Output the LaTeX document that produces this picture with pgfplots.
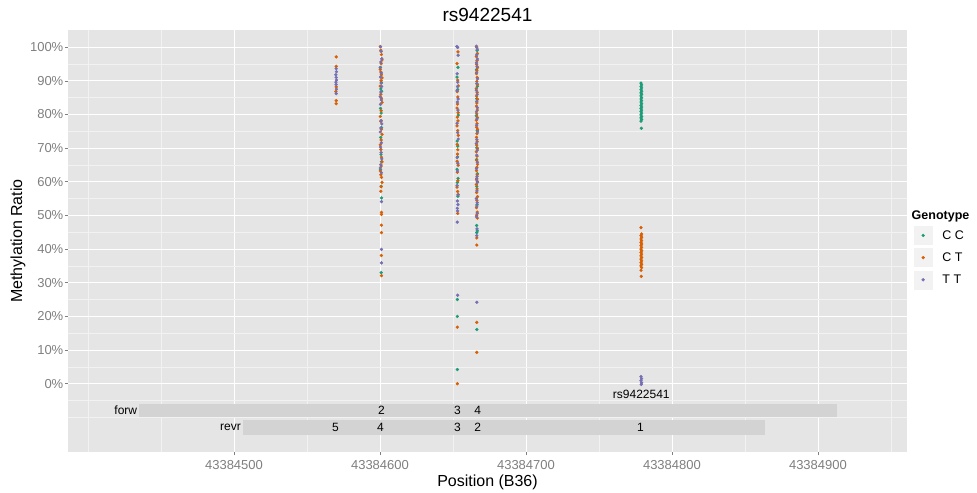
\documentclass[border=0pt]{standalone}
\usepackage{fontspec}
\setmainfont{Liberation Sans}
\usepackage{pgfplots}
\usepackage{pgfplotstable}
\pgfplotsset{compat=1.18}

\definecolor{ggbg}{HTML}{E5E5E5}
\definecolor{ggminor}{HTML}{F2F2F2}
\definecolor{ggtick}{HTML}{7F7F7F}
\definecolor{ggbar}{HTML}{D3D3D3}
\definecolor{gCC}{HTML}{1B9E77}
\definecolor{gCT}{HTML}{D95F02}
\definecolor{gTT}{HTML}{7570B3}

% x = position - 43384000, y = methylation ratio in percent
\pgfplotstableread{
x y
600.3 94.0
600.9 89.5
600.6 87.6
601.2 86.9
600.4 81.8
600.8 80.4
601.1 76.1
600.5 73.2
600.7 68.1
601.0 66.0
600.4 63.6
600.8 58.7
601.1 55.2
600.8 33.0
653.4 94.0
652.8 91.1
653.2 87.4
653.6 79.8
652.9 72.1
653.3 70.6
653.1 67.4
652.8 63.7
653.5 61.0
653.0 59.8
653.4 55.7
653.0 25.0
653.0 20.0
653.0 4.2
666.5 99.0
666.1 93.3
666.7 88.4
666.3 84.7
666.0 79.6
666.6 75.2
666.4 70.1
666.2 66.6
666.7 62.4
666.3 58.6
666.5 53.2
666.2 47.0
666.6 45.4
666.3 44.9
666.3 16.1
778.8 89.3
779.2 88.8
778.8 88.3
779.2 87.9
778.8 87.4
779.2 86.9
778.8 86.4
779.2 86.0
778.8 85.5
779.2 85.0
778.8 84.6
779.2 84.1
778.8 83.7
779.2 83.2
778.8 82.7
779.2 82.2
778.8 81.8
779.2 81.3
778.8 80.9
779.2 80.4
778.8 79.9
779.2 79.4
778.8 79.0
779.2 78.5
778.8 78.0
779.0 75.9
}\tabCC

\pgfplotstableread{
x y
570.0 97.1
570.0 94.3
570.0 88.2
569.8 86.8
570.0 84.1
570.0 83.2
600.2 100.2
600.6 99.1
601.0 97.8
601.4 96.2
600.8 95.1
600.2 93.4
600.6 92.6
601.0 91.8
601.4 90.9
600.8 90.1
600.2 88.4
600.6 86.0
601.0 84.8
601.4 83.6
600.8 81.1
600.2 79.4
600.6 77.9
601.0 75.6
601.4 74.1
600.8 72.4
600.2 71.0
600.6 69.6
601.0 67.3
601.4 65.9
600.8 64.7
600.2 63.2
600.6 62.1
601.0 61.3
601.4 59.8
600.8 58.5
600.6 57.2
601.0 50.9
601.0 50.3
601.0 47.1
601.0 44.9
601.0 38.1
601.0 32.1
653.4 98.6
652.8 95.1
653.2 90.2
653.6 88.5
652.9 86.8
653.3 85.2
653.1 83.1
652.8 81.9
653.5 80.5
653.0 79.2
653.4 78.1
652.8 76.6
653.2 75.2
653.6 73.8
652.9 71.1
653.3 69.5
653.1 68.2
652.8 66.1
653.5 64.9
653.0 62.8
653.4 60.3
652.8 58.4
653.2 57.1
653.6 56.2
653.2 50.6
653.0 16.8
653.0 0.0
666.3 100.0
666.7 98.1
666.0 97.2
666.5 96.0
666.2 94.9
666.8 93.9
666.4 93.0
666.1 92.1
666.6 91.0
666.3 89.8
666.7 88.9
666.0 87.7
666.5 86.6
666.2 85.5
666.8 84.5
666.4 83.4
666.1 82.5
666.6 81.3
666.3 80.2
666.7 79.1
666.0 78.3
666.5 77.3
666.2 76.2
666.8 75.6
666.4 74.3
666.1 73.2
666.6 71.9
666.3 70.9
666.7 69.9
666.0 68.9
666.5 67.6
666.2 66.4
666.8 65.2
666.4 64.3
666.1 63.3
666.6 62.1
666.3 61.0
666.7 60.1
666.0 59.2
666.5 57.9
666.2 56.8
666.8 55.6
666.4 54.5
666.1 52.3
666.6 51.0
666.3 50.1
666.7 49.2
666.3 43.3
666.3 41.2
666.3 18.2
666.3 9.3
778.8 46.4
779.2 44.5
778.8 44.0
779.2 43.5
778.8 43.0
779.2 42.5
778.8 42.0
779.2 41.5
778.8 41.0
779.2 40.5
778.8 40.0
779.2 39.5
778.8 39.0
779.2 38.5
778.8 38.0
779.2 37.5
778.8 37.0
779.2 36.5
778.8 36.0
779.2 35.5
778.8 35.0
779.2 34.5
778.8 33.7
779.0 31.9
}\tabCT

\pgfplotstableread{
x y
570.0 93.6
570.2 92.7
569.8 91.8
570.0 91.0
570.2 90.2
569.8 89.6
570.0 88.9
570.2 87.5
570.0 86.2
600.4 100.1
600.8 98.7
601.2 96.6
600.6 95.6
600.2 93.9
601.0 92.3
600.4 91.1
600.8 89.3
601.2 88.3
600.6 86.7
600.2 85.3
601.0 84.3
600.4 83.0
600.8 78.2
601.2 77.2
600.6 76.0
600.2 74.8
601.0 71.6
600.4 70.3
600.8 68.7
601.2 66.8
600.6 65.1
600.2 64.1
601.0 62.7
601.0 54.1
601.0 39.9
601.0 35.9
652.7 100.2
653.2 99.9
653.5 97.6
652.9 92.1
653.3 89.6
653.1 88.3
652.8 87.1
653.5 84.6
653.0 83.7
653.4 81.3
652.8 77.4
653.2 74.6
653.6 72.7
652.9 67.2
653.3 65.5
653.1 63.2
652.8 58.9
653.5 56.1
653.0 54.3
653.4 53.2
653.0 52.1
653.2 51.3
652.9 48.0
653.2 26.3
666.0 100.3
666.6 99.4
666.3 97.7
666.7 96.5
666.1 95.4
666.5 94.3
666.2 92.5
666.8 90.6
666.4 89.2
666.0 87.2
666.6 86.0
666.3 83.9
666.7 82.0
666.1 80.8
666.5 78.7
666.2 76.8
666.8 74.8
666.4 72.5
666.0 71.4
666.6 69.4
666.3 67.9
666.7 65.8
666.1 63.9
666.5 61.6
666.2 60.6
666.8 59.8
666.4 57.3
666.0 55.0
666.6 53.8
666.3 52.8
666.7 50.6
666.1 49.6
666.5 46.0
666.3 44.0
666.3 24.2
778.8 2.1
779.2 1.5
778.8 0.9
779.2 0.3
779.0 -0.2
}\tabTT

\begin{document}
\begin{tikzpicture}
\useasboundingbox (0,0) rectangle (977bp,493bp);
\begin{axis}[
  at={(68bp,41bp)}, anchor=south west,
  scale only axis, width=839bp, height=422bp,
  xmin=386.3, xmax=961, ymin=-20.3, ymax=105.1,
  clip mode=individual,
  axis background/.style={fill=ggbg},
  axis line style={draw=none},
  xtick pos=bottom, ytick pos=left,
  xtick={500,600,700,800,900},
  xticklabels={43384500,43384600,43384700,43384800,43384900},
  ytick={0,10,20,30,40,50,60,70,80,90,100},
  yticklabels={0\%,10\%,20\%,30\%,40\%,50\%,60\%,70\%,80\%,90\%,100\%},
  minor xtick={400,450,550,650,750,850,950},
  minor ytick={-10,-5,5,15,25,35,45,55,65,75,85,95},
  grid=both,
  major grid style={white, line width=0.8bp},
  minor grid style={ggminor, line width=0.45bp},
  tick align=outside,
  major tick length=3bp, minor tick length=0pt,
  tick style={ggtick, line width=0.6bp},
  /pgf/number format/assume math mode=true,
  ticklabel style={font=\fontsize{13bp}{15bp}\selectfont, text=ggtick, inner sep=1.5bp},
  xticklabel style={yshift=-4bp},
  title={rs9422541},
  title style={at={(axis description cs:0.5,1)}, anchor=base, yshift=3bp,
    font=\fontsize{19bp}{22bp}\selectfont},
  xlabel={Position (B36)},
  xlabel style={at={(axis description cs:0.5,-0.0711)}, anchor=center,
    font=\fontsize{16bp}{19bp}\selectfont},
  ylabel={Methylation Ratio},
  ylabel style={at={(axis description cs:-0.0596,0.5)}, anchor=center,
    font=\fontsize{16bp}{19bp}\selectfont},
  legend style={at={(axis description cs:1,0.538)}, anchor=north west, xshift=5.7bp,
    draw=none, fill=none, inner sep=0pt, row sep=1.7bp, column sep=9bp,
    font=\fontsize{12.5bp}{15bp}\selectfont, nodes={inner sep=0pt}},
  legend cell align=left,
  legend image code/.code={
    \fill[ggminor, draw=white, line width=0.5bp] (0bp,-10bp) rectangle (20bp,10bp);
    \draw[#1, only marks] plot coordinates {(10bp,0bp)};
  },
]

% primer bars
\addplot[fill=ggbar, draw=none, forget plot]
  coordinates {(435,-9.85) (913,-9.85) (913,-5.9) (435,-5.9)} -- cycle;
\addplot[fill=ggbar, draw=none, forget plot]
  coordinates {(506,-15.1) (864,-15.1) (864,-10.8) (506,-10.8)} -- cycle;

\addplot[only marks, mark=*, mark size=1.45bp, color=gCC, mark options={draw=none, fill=gCC}]
  table[x=x, y=y] {\tabCC};
\addlegendentry{C C}
\addplot[only marks, mark=*, mark size=1.45bp, color=gCT, mark options={draw=none, fill=gCT}]
  table[x=x, y=y] {\tabCT};
\addlegendentry{C T}
\addplot[only marks, mark=*, mark size=1.45bp, color=gTT, mark options={draw=none, fill=gTT}]
  table[x=x, y=y] {\tabTT};
\addlegendentry{T T}

% annotations
\begin{scope}[every node/.style={font=\fontsize{12bp}{14bp}\selectfont, inner sep=0pt}]
\node[anchor=east] at (axis cs:433.8,-7.85) {forw};
\node[anchor=east] at (axis cs:504.8,-12.95) {revr};
\node at (axis cs:601,-7.85) {2};
\node at (axis cs:653,-7.85) {3};
\node at (axis cs:667,-7.85) {4};
\node at (axis cs:569.5,-12.95) {5};
\node at (axis cs:600.3,-12.95) {4};
\node at (axis cs:653,-12.95) {3};
\node at (axis cs:667,-12.95) {2};
\node at (axis cs:778.5,-12.95) {1};
\node at (axis cs:779,-3.2) {rs9422541};
\node[anchor=base west, font=\bfseries\fontsize{12.5bp}{15bp}\selectfont]
  at (axis description cs:1,0.55) [xshift=4.5bp] {Genotype};
\end{scope}
\end{axis}
\end{tikzpicture}
\end{document}
